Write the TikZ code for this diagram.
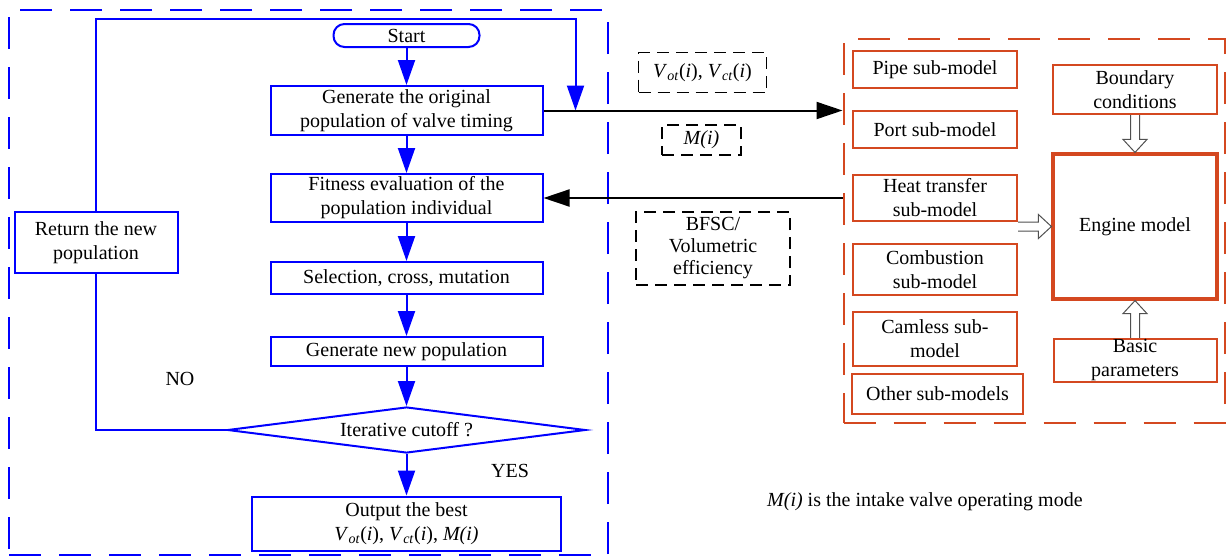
\documentclass[tikz,border=0pt]{standalone}
\usepackage{fontspec}
\setmainfont{Liberation Serif}
\usetikzlibrary{arrows.meta,shapes.geometric,calc}
\definecolor{fblue}{RGB}{0,0,255}
\definecolor{fred}{RGB}{212,72,32}
\definecolor{hgray}{RGB}{80,80,80}
\begin{document}
\begin{tikzpicture}[x=1pt,y=-1pt,
  every node/.style={font=\fontsize{20}{24}\selectfont, align=center, inner sep=1pt},
  bbox/.style={draw=fblue, line width=2pt},
  startbox/.style={draw=fblue, line width=2pt, rounded corners=11pt},
  diabox/.style={draw=fblue, line width=2pt, diamond, aspect=6.5, inner sep=1pt},
  bframe/.style={draw=fblue, line width=2pt, dash pattern=on 32pt off 18pt},
  rframe/.style={draw=fred, line width=2pt, dash pattern=on 32pt off 18pt},
  rbox/.style={draw=fred, line width=2pt},
  lab/.style={draw=black, line width=1.7pt, dash pattern=on 12pt off 7pt},
  barrow/.style={draw=fblue, line width=2pt, -{Triangle[length=25pt,width=17pt]}},
  bline/.style={draw=fblue, line width=2pt},
  karrow/.style={draw=black, line width=2pt, -{Triangle[length=26pt,width=17pt]}},
  hollow/.style={draw=hgray, line width=1pt, fill=white, line join=miter}]
\useasboundingbox (0,0) rectangle (1226,557);

% frames
\node[bframe, minimum width=599pt, minimum height=545pt] (left) at (308.5,282.5) {};
\node[rframe, minimum width=381pt, minimum height=384pt] (mods) at (1034,231) {};

% flowchart
\node[startbox, minimum width=146pt, minimum height=23pt] (start) at (406.5,35.5) {Start};
\node[bbox, minimum width=272pt, minimum height=49pt] (gen) at (406.5,110.5) {Generate the original\\population of valve timing};
\node[bbox, minimum width=272pt, minimum height=48pt] (fit) at (406.5,198) {Fitness evaluation of the\\population individual};
\node[bbox, minimum width=272pt, minimum height=32pt] (sel) at (406.5,278) {Selection, cross, mutation};
\node[bbox, minimum width=272pt, minimum height=29pt] (newp) at (406.5,351.5) {Generate new population};
\node[diabox, minimum width=358pt, minimum height=46pt] (dia) at (406.5,430) {Iterative cutoff ?};
\node[bbox, minimum width=309pt, minimum height=54pt] (out) at (406.5,523.5) {Output the best\\\textit{V}\textsubscript{\textit{ot}}(\textit{i}), \textit{V}\textsubscript{\textit{ct}}(\textit{i}), \textit{M(i)}};
\node[bbox, minimum width=163pt, minimum height=61pt] (ret) at (96,242.5) {Return the new\\population};
\node (no) at (180,379) {NO};
\node (yes) at (510,471) {YES};

\draw[barrow] (start) -- (gen);
\draw[barrow] (gen) -- (fit);
\draw[barrow] (fit) -- (sel);
\draw[barrow] (sel) -- (newp);
\draw[barrow] (newp) -- (dia);
\draw[barrow] (dia) -- (out);

\coordinate (lt) at (0,19);
\coordinate (loopin) at ([xshift=32pt]gen.east);
\draw[bline] (dia.west) -- (ret.south |- dia.west) -- (ret.south);
\draw[barrow] (ret.north) -- (ret.north |- lt) -- (loopin |- lt) -- (loopin);

% links between blocks
\draw[karrow] (gen.east) -- (mods.west |- gen.east);
\draw[karrow] (mods.west |- fit.east) -- (fit.east);

\node[lab, minimum width=128pt, minimum height=40pt] (vlab) at (702.5,72.5) {\textit{V}\textsubscript{\textit{ot}}(\textit{i}), \textit{V}\textsubscript{\textit{ct}}(\textit{i})};
\node[lab, minimum width=79pt, minimum height=30pt] (mlab) at (701.5,140) {\textit{M(i)}};
\node[lab, minimum width=154pt, minimum height=73pt, font=\fontsize{20}{22}\selectfont] (blab) at (713,248.5) {BFSC/\\Volumetric\\efficiency};

% engine model side
\node[rbox, minimum width=164pt, minimum height=37pt] (pipe) at (935,69.5) {Pipe sub-model};
\node[rbox, minimum width=164pt, minimum height=37pt] (port) at (935,129.5) {Port sub-model};
\node[rbox, minimum width=164pt, minimum height=46pt] (heat) at (935,198) {Heat transfer\\sub-model};
\node[rbox, minimum width=164pt, minimum height=51pt] (comb) at (935,269.5) {Combustion\\sub-model};
\node[rbox, minimum width=164pt, minimum height=54pt] (cam) at (935,339) {Camless sub-\\model};
\node[rbox, minimum width=171pt, minimum height=40pt] (other) at (937.5,394) {Other sub-models};
\node[rbox, minimum width=164pt, minimum height=49pt] (bc) at (1135,89.5) {Boundary\\conditions};
\node[rbox, line width=3.2pt, minimum width=164pt, minimum height=145pt] (eng) at (1135,226.5) {Engine model};
\node[rbox, minimum width=163pt, minimum height=43pt] (basic) at (1135,360.5) {Basic\\parameters};

\draw[hollow] let \p1=(bc.south), \p2=(eng.north) in
  (\x1-4.5pt,\y1) -- (\x1-4.5pt,\y2+13pt) -- (\x1-12pt,\y2+13pt) -- (\x1,\y2)
  -- (\x1+12pt,\y2+13pt) -- (\x1+4.5pt,\y2+13pt) -- (\x1+4.5pt,\y1);
\draw[hollow] let \p1=(heat.east |- eng.west), \p2=(eng.west) in
  (\x1,\y1+4.5pt) -- (\x2-13pt,\y1+4.5pt) -- (\x2-13pt,\y1+12pt) -- (\x2,\y1)
  -- (\x2-13pt,\y1-12pt) -- (\x2-13pt,\y1-4.5pt) -- (\x1,\y1-4.5pt);
\draw[hollow] let \p1=(basic.north), \p2=(eng.south) in
  (\x1-4.5pt,\y1) -- (\x1-4.5pt,\y2-13pt) -- (\x1-12pt,\y2-13pt) -- (\x1,\y2)
  -- (\x1+12pt,\y2-13pt) -- (\x1+4.5pt,\y2-13pt) -- (\x1+4.5pt,\y1);

\node[anchor=west] (note) at (766,502) {\textit{M(i)} is the intake valve operating mode};
\end{tikzpicture}
\end{document}
